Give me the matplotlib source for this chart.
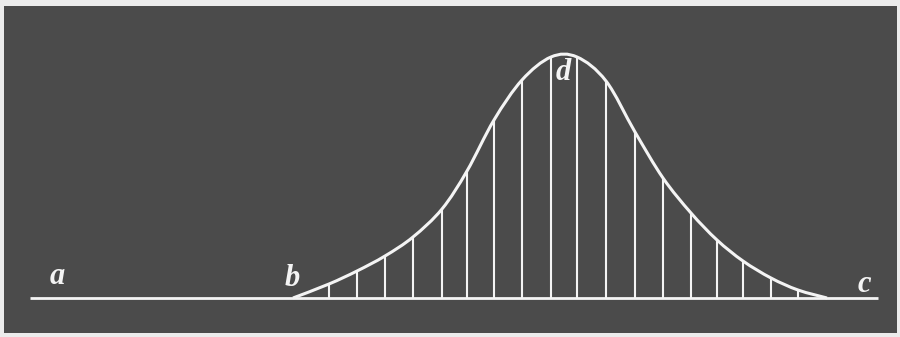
import numpy as np
import matplotlib
matplotlib.use('Agg')
import matplotlib.pyplot as plt
from matplotlib.path import Path
from matplotlib.patches import PathPatch, Rectangle

# curve: x position and height above the line a-c
curve_x = [293, 329, 357, 385, 413, 442, 467, 494, 522, 551, 577, 606, 635, 663, 691, 717, 743, 771, 798, 827]
curve_h = [0, 14, 27, 42, 61, 89, 127, 178, 218, 241, 241, 217, 166, 120, 85, 58, 37, 20, 8, 0]

# the vertical ordinates under the curve
ord_x = [329, 357, 385, 413, 442, 467, 494, 522, 551, 577, 606, 635, 663, 691, 717, 743, 771, 798]
ord_h = [14, 27, 42, 61, 89, 127, 178, 218, 241, 241, 217, 166, 120, 85, 58, 37, 20, 8]

labels = ['a', 'b', 'c', 'd']
label_x = [57, 292, 864, 563]
label_y = [21, 20, 13, 225]

base_x = [30, 878]

board = '#4b4b4b'
chalk = '#f4f4f4'


def smooth_path(xs, ys):
    # catmull-rom through the points, drawn as cubic bezier segments
    pts = np.column_stack([xs, ys]).astype(float)
    ext = np.vstack([pts[0], pts, pts[-1]])
    verts = [pts[0]]
    codes = [Path.MOVETO]
    for i in range(1, len(ext) - 2):
        p0, p1, p2, p3 = ext[i - 1], ext[i], ext[i + 1], ext[i + 2]
        verts += [p1 + (p2 - p0) / 6, p2 - (p3 - p1) / 6, p2]
        codes += [Path.CURVE4] * 3
    return Path(verts, codes)


fig = plt.figure(figsize=(9, 3.37), dpi=100, facecolor='#ececec')
ax = fig.add_axes([0, 0, 1, 1])
ax.set_xlim(0, 900)
ax.set_ylim(-39, 298)
ax.axis('off')

ax.add_patch(Rectangle((4, -35), 893, 327, facecolor=board, edgecolor='none', zorder=0))

ax.plot(base_x, [0, 0], color=chalk, lw=2.0, solid_capstyle='butt', zorder=2)
ax.vlines(ord_x, 0, ord_h, color=chalk, lw=1.5, zorder=2)
ax.add_patch(PathPatch(smooth_path(curve_x, curve_h), facecolor='none',
                       edgecolor=chalk, lw=2.2, zorder=3))

for t, x, y in zip(labels, label_x, label_y):
    ax.text(x, y, t, color=chalk, fontsize=22, family='Liberation Serif',
            style='italic', weight='bold', ha='center', va='center', zorder=4)

fig.savefig('out.png', dpi=100, facecolor=fig.get_facecolor())
